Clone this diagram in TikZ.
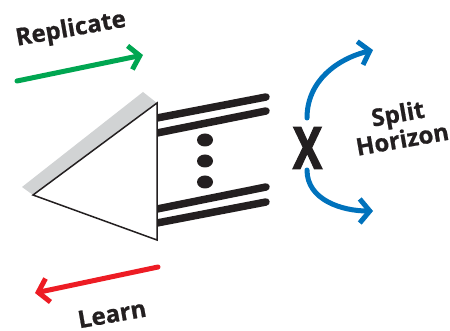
\documentclass[tikz,border=0pt]{standalone}
\usepackage{fontspec}
\setmainfont{Open Sans}[BoldFeatures={FakeBold=0.8}]
\newfontfamily\heavyfont{Open Sans}[UprightFont=*-Bold, FakeBold=2.6]
\usetikzlibrary{arrows.meta,shapes.geometric}
\definecolor{repgreen}{RGB}{0,166,81}
\definecolor{learnred}{RGB}{237,28,36}
\definecolor{splitblue}{RGB}{0,114,188}
\definecolor{edgegray}{RGB}{209,211,212}
\definecolor{ink}{RGB}{35,31,32}
\begin{document}
\begin{tikzpicture}[x=1pt,y=1pt,
  caption/.style={font=\bfseries\fontsize{24}{26}\selectfont, text=ink, inner sep=0pt, rotate=10, align=center},
  flow/.style={line width=5pt, line cap=round, -{Straight Barb[length=10pt,width=24pt]}},
  port/.style={line width=7.5pt, draw=ink, line cap=round},
  dotmark/.style={ellipse, fill=ink, minimum width=16pt, minimum height=13pt, inner sep=0pt}]
\useasboundingbox (0,0) rectangle (450,-331);

% triangle corners and the grey highlight along its upper edge
\coordinate (tipL) at (33,-195);
\coordinate (topR) at (157,-103);
\coordinate (botR) at (157,-240);
\coordinate (grayA) at (22,-187);
\coordinate (grayB) at (143,-92);
\fill[edgegray] (tipL) -- (grayA) -- (grayB) -- (topR) -- cycle;

% the interface lines leaving the right side
\foreach \n/\ya/\yb in {1/118/97, 2/133/111, 3/209/187, 4/223/202}{
  \coordinate (p\n a) at (157,-\ya);
  \coordinate (p\n b) at (266,-\yb);
  \draw[port] (p\n a) -- (p\n b);
}
\node[dotmark] (d1) at (205,-140) {};
\node[dotmark] (d2) at (205,-161) {};
\node[dotmark] (d3) at (205,-182) {};

\filldraw[fill=white, draw=ink, line width=1.5pt, line join=miter] (tipL) -- (topR) -- (botR) -- cycle;

% replicate / learn arrows
\node[caption] (rep) at (71,-30) {Replicate};
\coordinate (g1) at (17,-81);
\coordinate (g2) at (143,-55);
\draw[flow, repgreen] (g1) -- (g2);

\node[caption] (learn) at (112,-314) {Learn};
\coordinate (r1) at (158,-267);
\coordinate (r2) at (35,-293);
\draw[flow, learnred] (r1) -- (r2);

% split horizon
\node[font=\heavyfont\fontsize{58}{60}\selectfont, text=ink, inner sep=0pt, xscale=0.75] (x) at (307.5,-148) {X};
\coordinate (u1) at (307,-118);
\coordinate (u2) at (373,-50);
\coordinate (l1) at (307,-170);
\coordinate (l2) at (373,-211);
\draw[flow, splitblue] (u1) to[out=90,in=194] (u2);
\draw[flow, splitblue] (l1) to[out=270,in=180] (l2);
\node[caption] (split) at (400,-126) {Split\\Horizon};
\end{tikzpicture}
\end{document}
